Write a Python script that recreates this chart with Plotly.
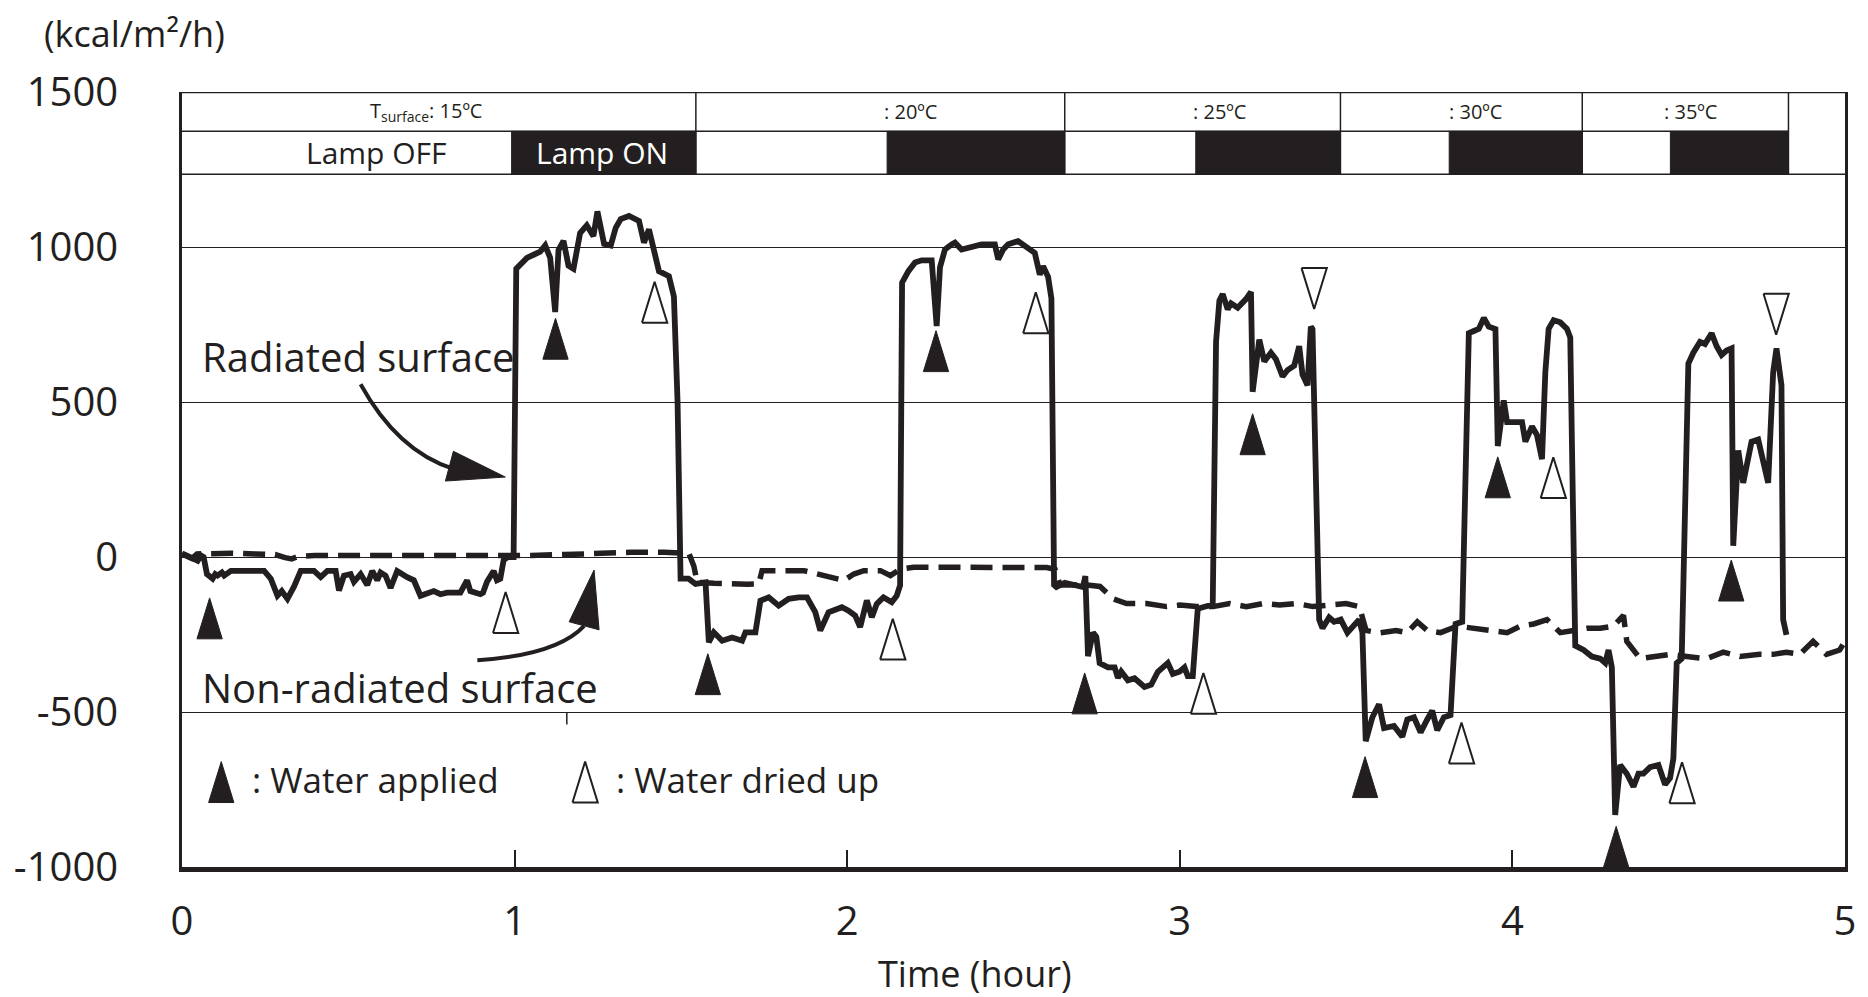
import plotly.graph_objects as go

INK = "#231f20"
FONT = "Open Sans"

# ---------------- data ----------------
rad_t = [0.000, 0.020, 0.035, 0.047, 0.057, 0.065, 0.075, 0.092, 0.100, 0.107, 0.120, 0.127, 0.147, 0.200,
         0.247, 0.267, 0.287, 0.300, 0.317, 0.337, 0.357, 0.397, 0.405, 0.417, 0.437, 0.462, 0.472, 0.480,
         0.487, 0.507, 0.517, 0.537, 0.557, 0.572, 0.587, 0.597, 0.612, 0.627, 0.647, 0.677, 0.697, 0.717,
         0.740, 0.757, 0.777, 0.797, 0.837, 0.857, 0.867, 0.877, 0.897, 0.905, 0.917, 0.937, 0.947, 0.957,
         0.967, 0.980, 0.997,
         1.005, 1.017, 1.037, 1.057, 1.077, 1.092, 1.107, 1.122, 1.132, 1.147, 1.162, 1.177, 1.197, 1.217,
         1.237, 1.249, 1.269, 1.289, 1.304, 1.319, 1.344, 1.374, 1.389, 1.404, 1.419, 1.434, 1.464, 1.479,
         1.490, 1.499, 1.523, 1.544, 1.574, 1.584, 1.599, 1.624, 1.654, 1.684, 1.694, 1.724, 1.739, 1.764,
         1.794, 1.824, 1.854, 1.879, 1.904, 1.919, 1.944, 1.984, 2.004, 2.024, 2.039, 2.059, 2.074, 2.089,
         2.109, 2.134, 2.149, 2.159,
         2.165, 2.184, 2.204, 2.224, 2.254, 2.269, 2.279, 2.294, 2.314, 2.324, 2.344, 2.374, 2.404, 2.444,
         2.454, 2.469, 2.484, 2.514, 2.544, 2.564, 2.579, 2.589, 2.604, 2.614,
         2.622, 2.629, 2.654, 2.684, 2.709, 2.716, 2.724, 2.739, 2.749, 2.759, 2.784, 2.804, 2.814, 2.824,
         2.844, 2.864, 2.894, 2.914, 2.934, 2.964, 2.979, 2.999, 3.014, 3.024, 3.039, 3.054, 3.074, 3.099,
         3.109, 3.119, 3.129, 3.144, 3.154, 3.174, 3.199, 3.214, 3.219, 3.239, 3.254, 3.274, 3.289, 3.309,
         3.324, 3.344, 3.359, 3.369, 3.384, 3.394, 3.399, 3.409,
         3.419, 3.429, 3.449, 3.464, 3.484, 3.504, 3.524, 3.539, 3.549, 3.559, 3.579, 3.599, 3.614, 3.644,
         3.669, 3.684, 3.704, 3.724, 3.744, 3.759, 3.774, 3.794, 3.814, 3.829, 3.849,
         3.859, 3.869, 3.884, 3.899, 3.914, 3.929, 3.949, 3.956, 3.974, 3.984, 4.004, 4.029, 4.039, 4.059,
         4.074, 4.089, 4.099, 4.109, 4.124, 4.144, 4.164, 4.174, 4.180,
         4.189, 4.214, 4.239, 4.264, 4.279, 4.289, 4.299, 4.309, 4.324, 4.344, 4.364, 4.379, 4.394, 4.414,
         4.439, 4.459, 4.474, 4.484, 4.494, 4.509,
         4.519, 4.529, 4.544, 4.564, 4.579, 4.599, 4.614, 4.629, 4.644, 4.659, 4.664, 4.679, 4.694, 4.704,
         4.719, 4.739, 4.754, 4.769, 4.784, 4.794, 4.809, 4.814, 4.824]
rad_v = [12, 0, -10, -12, 5, 0, -55, -70, -55, -60, -50, -60, -45, -45,
         -45, -70, -125, -110, -135, -95, -45, -45, -55, -65, -45, -45, -108, -80,
         -60, -55, -80, -55, -90, -45, -75, -50, -60, -100, -45, -65, -75, -125,
         -115, -110, -120, -115, -115, -75, -110, -115, -120, -115, -80, -45, -75, -70,
         -10, 0, 0,
         930, 945, 965, 975, 985, 1005, 965, 790, 990, 1020, 940, 930, 1045, 1070,
         1035, 1115, 1010, 1005, 1062, 1090, 1100, 1084, 1014, 1057, 982, 922, 906, 840,
         500, -70, -70, -87, -82, -275, -243, -270, -260, -270, -243, -243, -141, -130,
         -157, -135, -130, -130, -178, -237, -178, -162, -173, -189, -226, -140, -194, -151,
         -130, -146, -125, -92,
         885, 922, 950, 957, 957, 745, 935, 992, 1008, 1014, 992, 998, 1008, 1008,
         960, 992, 1009, 1019, 995, 981, 911, 938, 904, 834,
         -90, -97, -83, -90, -97, -62, -320, -244, -258, -342, -356, -356, -390, -370,
         -398, -391, -419, -412, -370, -342, -377, -370, -356, -384, -384, -167, -160, -153,
         694, 827, 848, 799, 818, 804, 832, 855, 533, 701, 631, 659, 638, 582,
         603, 617, 680, 588, 554, 743, 735, 300,
         -202, -230, -195, -209, -202, -244, -223, -202, -244, -594, -517, -475, -552, -545,
         -580, -524, -517, -566, -524, -496, -559, -517, -510, -216, -209,
         176, 722, 729, 736, 771, 743, 735, 358, 505, 435, 435, 435, 372, 421,
         393, 316, 596, 736, 764, 757, 736, 708, 300,
         -286, -300, -321, -328, -342, -300, -356, -832, -671, -699, -741, -699, -699, -678,
         -671, -734, -713, -650, -342, -328,
         176, 624, 659, 694, 687, 722, 680, 652, 666, 673, 36, 344, 239, 288,
         372, 379, 316, 239, 596, 673, 554, -202, -251]

non_t = [0.000, 0.015, 0.030, 0.045, 0.080, 0.150, 0.220, 0.280, 0.310, 0.330, 0.350, 0.400, 0.500, 0.600,
         0.700, 0.780, 0.850, 0.950, 1.050, 1.150, 1.250, 1.350, 1.450, 1.524, 1.539, 1.549, 1.600, 1.650,
         1.700, 1.734, 1.744, 1.800, 1.870, 1.990, 2.020, 2.050, 2.100, 2.130, 2.160, 2.200, 2.300, 2.400,
         2.500, 2.600, 2.625, 2.640, 2.720, 2.760, 2.800, 2.840, 2.900, 2.960, 3.000, 3.050, 3.100, 3.150,
         3.200, 3.250, 3.300, 3.350, 3.400, 3.450, 3.500, 3.540, 3.560, 3.600, 3.650, 3.684, 3.714, 3.744,
         3.784, 3.834, 3.884, 3.944, 3.984, 4.024, 4.064, 4.104, 4.144, 4.184, 4.224, 4.264, 4.304, 4.334,
         4.344, 4.384, 4.424, 4.474, 4.524, 4.584, 4.634, 4.684, 4.744, 4.784, 4.824, 4.864, 4.904, 4.944,
         4.984, 5.000]
non_v = [10, 0, -5, 10, 12, 12, 10, 8, -2, -6, 2, 5, 5, 5,
         3, 2, 2, 5, 5, 8, 12, 15, 15, 12, -30, -82, -85, -88,
         -88, -87, -44, -44, -44, -76, -55, -44, -44, -60, -39, -33, -33, -33,
         -34, -34, -40, -90, -90, -95, -135, -150, -150, -160, -155, -160, -160, -150,
         -160, -150, -155, -150, -160, -155, -150, -160, -237, -245, -237, -244, -209, -237,
         -244, -223, -230, -237, -244, -223, -216, -202, -244, -237, -230, -230, -223, -188,
         -272, -328, -321, -314, -321, -328, -307, -321, -314, -314, -307, -314, -272, -314,
         -300, -272]

# event markers (triangle centres)
applied_t = [0.083, 1.123, 1.581, 2.267, 2.714, 3.219, 3.557, 3.956, 4.312, 4.658]
applied_v = [-198, 704, -378, 664, -440, 396, -710, 257, -935, -76]
dried_t = [0.973, 1.421, 2.137, 2.567, 3.071, 3.847, 4.123, 4.510]
dried_v = [-179, 822, -265, 788, -440, -600, 256, -728]
peak_t = [3.404, 4.793]
peak_v = [866, 783]

# header table
temp_bounds = [1.545, 2.654, 3.483, 4.21, 4.830]
lamp_on_start = [0.991, 2.12, 3.048, 3.81, 4.475]
temp_labels = ["T<sub>surface</sub>: 15ºC", ": 20ºC", ": 25ºC", ": 30ºC", ": 35ºC"]
temp_label_x = [0.735, 2.19, 3.12, 3.89, 4.535]

x_ticks = [0, 1, 2, 3, 4, 5]
y_ticks = [-1000, -500, 0, 500, 1000, 1500]
y_ticktext = ["-1000", "-500", "0", "500", "1000", "1500"]

# ---------------- figure ----------------
HW = 0.038   # triangle half width (hours)
TH = 132     # triangle height (kcal units)


def triangles(ts, vs, up=True):
    xs, ys = [], []
    s = 1 if up else -1
    for t, v in zip(ts, vs):
        xs += [t - HW, t + HW, t, t - HW, None]
        ys += [v - s * TH / 2, v - s * TH / 2, v + s * TH / 2, v - s * TH / 2, None]
    return xs, ys


fig = go.Figure()

fig.add_trace(go.Scatter(x=non_t, y=non_v, mode="lines",
                         line=dict(color=INK, width=5.5, dash="22px,10px"), hoverinfo="skip"))
fig.add_trace(go.Scatter(x=rad_t, y=rad_v, mode="lines",
                         line=dict(color=INK, width=5.8), hoverinfo="skip"))

ax, ay = triangles(applied_t + [0.118], applied_v + [-726])
fig.add_trace(go.Scatter(x=ax, y=ay, mode="lines", fill="toself", fillcolor=INK,
                         line=dict(color=INK, width=1), hoverinfo="skip"))
dx, dy = triangles(dried_t + [1.212], dried_v + [-726])
fig.add_trace(go.Scatter(x=dx, y=dy, mode="lines", fill="toself", fillcolor="white",
                         line=dict(color=INK, width=2), hoverinfo="skip"))
px_, py_ = triangles(peak_t, peak_v, up=False)
fig.add_trace(go.Scatter(x=px_, y=py_, mode="lines", fill="toself", fillcolor="white",
                         line=dict(color=INK, width=2), hoverinfo="skip"))

shapes = []
# top frame
shapes.append(dict(type="line", xref="x", yref="y", x0=0, x1=5, y0=1500, y1=1500,
                   line=dict(color=INK, width=2.7)))
# header table
ROW_SEP, ROW_BOT = 1373, 1235
shapes.append(dict(type="line", xref="x", yref="y", x0=0, x1=temp_bounds[-1], y0=ROW_SEP, y1=ROW_SEP,
                   line=dict(color=INK, width=1.5)))
shapes.append(dict(type="line", xref="x", yref="y", x0=0, x1=5, y0=ROW_BOT, y1=ROW_BOT,
                   line=dict(color=INK, width=1.5)))
for b in temp_bounds:
    shapes.append(dict(type="line", xref="x", yref="y", x0=b, x1=b, y0=ROW_BOT, y1=1500,
                       line=dict(color=INK, width=1.5)))
for s0, b in zip(lamp_on_start, temp_bounds):
    shapes.append(dict(type="rect", xref="x", yref="y", x0=s0, x1=b, y0=ROW_BOT, y1=ROW_SEP,
                       fillcolor=INK, line=dict(color=INK, width=1)))

# curved pointer arrows
shapes.append(dict(type="path", xref="x", yref="y",
                   path="M 0.537,557 Q 0.648,341 0.816,284", line=dict(color=INK, width=4)))
shapes.append(dict(type="path", xref="x", yref="y",
                   path="M 0.972,258 L 0.816,341 L 0.792,245 Z", fillcolor=INK, line=dict(color=INK, width=1)))
shapes.append(dict(type="path", xref="x", yref="y",
                   path="M 0.888,-333 Q 1.128,-316 1.209,-222", line=dict(color=INK, width=4)))
shapes.append(dict(type="path", xref="x", yref="y",
                   path="M 1.239,-42 L 1.164,-209 L 1.254,-235 Z", fillcolor=INK, line=dict(color=INK, width=1)))
# small stray tick under the label
shapes.append(dict(type="line", xref="x", yref="y", x0=1.157, x1=1.157, y0=-500, y1=-540,
                   line=dict(color=INK, width=1.5)))

annotations = []
for lbl, x in zip(temp_labels, temp_label_x):
    annotations.append(dict(x=x, y=1437, xref="x", yref="y", text=lbl, showarrow=False,
                            font=dict(size=20, color=INK, family=FONT)))
annotations.append(dict(x=0.586, y=1305, xref="x", yref="y", text="Lamp OFF", showarrow=False,
                        font=dict(size=30, color=INK, family=FONT)))
annotations.append(dict(x=1.263, y=1305, xref="x", yref="y", text="Lamp ON", showarrow=False,
                        font=dict(size=30, color="white", family=FONT)))
annotations.append(dict(x=0.054, y=648, xref="x", yref="y", text="Radiated surface", showarrow=False,
                        xanchor="left", font=dict(size=40, color=INK, family=FONT)))
annotations.append(dict(x=0.054, y=-421, xref="x", yref="y", text="Non-radiated surface", showarrow=False,
                        xanchor="left", font=dict(size=40, color=INK, family=FONT)))
annotations.append(dict(x=0.205, y=-718, xref="x", yref="y", text=": Water applied", showarrow=False,
                        xanchor="left", font=dict(size=35, color=INK, family=FONT)))
annotations.append(dict(x=1.298, y=-718, xref="x", yref="y", text=": Water dried up", showarrow=False,
                        xanchor="left", font=dict(size=35, color=INK, family=FONT)))
annotations.append(dict(x=-0.084, y=1.076, xref="paper", yref="paper", text="(kcal/m²/h)",
                        showarrow=False, xanchor="left", yanchor="middle",
                        font=dict(size=36, color=INK, family=FONT)))
annotations.append(dict(x=2.385, y=-0.138, xref="x", yref="paper", text="Time (hour)",
                        showarrow=False, yanchor="middle", font=dict(size=36, color=INK, family=FONT)))

fig.update_layout(
    width=1868, height=997,
    margin=dict(l=182, r=19, t=92, b=130),
    plot_bgcolor="white", paper_bgcolor="white",
    showlegend=False,
    font=dict(family=FONT, color=INK, size=40),
    shapes=shapes, annotations=annotations,
)
fig.update_xaxes(range=[0, 5], tickvals=x_ticks, ticks="inside", ticklen=17, tickwidth=1.5,
                 tickcolor=INK, showline=True, linewidth=5, linecolor=INK, showgrid=False,
                 zeroline=False, tickfont=dict(size=40, color=INK, family=FONT), ticklabelstandoff=15)
fig.update_yaxes(range=[-1000, 1500], tickvals=y_ticks, ticktext=y_ticktext, ticks="",
                 showgrid=True, gridcolor=INK, gridwidth=1, showline=True, linewidth=2.7,
                 linecolor=INK, mirror=True, zeroline=False,
                 tickfont=dict(size=40, color=INK, family=FONT), ticklabelstandoff=53)

fig.write_html("out.html")
